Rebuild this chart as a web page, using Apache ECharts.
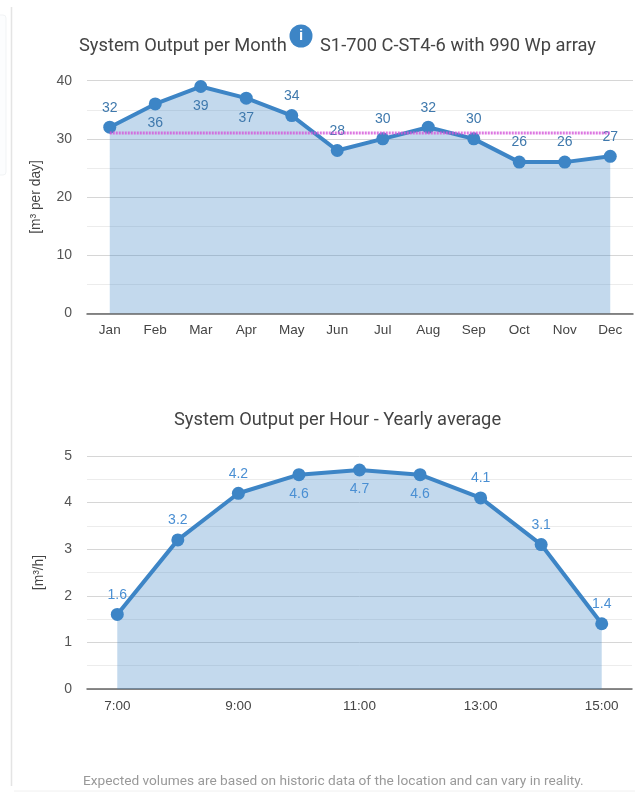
<!DOCTYPE html>
<html><head><meta charset="utf-8">
<style>html,body{margin:0;padding:0;background:#fff}#c{width:635px;height:792px}</style>
<script src="https://cdn.jsdelivr.net/npm/echarts@6/dist/echarts.min.js"></script>
</head><body><div id="c"></div>
<script>
const months = ['Jan','Feb','Mar','Apr','May','Jun','Jul','Aug','Sep','Oct','Nov','Dec'];
const monthValues = [32,36,39,37,34,28,30,32,30,26,26,27];
const monthThreshold = [31,31,31,31,31,31,31,31,31,31,31,31];
const monthLabelBelow = [0,1,1,1,0,0,0,0,0,0,0,0];
const hours = ['7:00','8:00','9:00','10:00','11:00','12:00','13:00','14:00','15:00'];
const hourValues = [1.6,3.2,4.2,4.6,4.7,4.6,4.1,3.1,1.4];
const hourLabelBelow = [0,0,0,1,1,1,0,0,0];
const title1 = 'System Output per Month';
const title1b = 'S1-700 C-ST4-6 with 990 Wp array';
const title2 = 'System Output per Hour - Yearly average';
const footer = 'Expected volumes are based on historic data of the location and can vary in reality.';

const blue = '#3d85c6';
const sans = '"Liberation Sans", Arial, sans-serif';
function withSides(vals, sides, color){
  return vals.map((v,i)=>({value:v,label:{position:sides[i]?'bottom':'top',color:color}}));
}
function yAxis(idx,max,interval,name,gap){
  return {type:'value',gridIndex:idx,min:0,max:max,interval:interval,name:name,nameLocation:'middle',nameGap:gap,
    nameTextStyle:{color:'#444',fontSize:13.8,fontFamily:sans},
    axisLine:{show:false},axisTick:{show:false},
    axisLabel:{color:'#555',fontSize:14,fontFamily:sans,margin:15},
    splitLine:{show:true,lineStyle:{color:'#d6d6d6',width:1}},
    minorTick:{show:false,splitNumber:2},
    minorSplitLine:{show:true,lineStyle:{color:'#ececec',width:1}}};
}
function xAxis(idx,data,interval){
  return {type:'category',gridIndex:idx,data:data,boundaryGap:true,
    axisLine:{show:true,lineStyle:{color:'#666',width:1.5}},axisTick:{show:false},
    axisLabel:{color:'#444',fontSize:13.5,fontFamily:sans,margin:10,interval:interval},
    splitLine:{show:false}};
}
function areaSeries(idx,data){
  return {type:'line',xAxisIndex:idx,yAxisIndex:idx,data:data,symbol:'circle',symbolSize:13,showSymbol:true,
    lineStyle:{color:blue,width:4},itemStyle:{color:blue},areaStyle:{color:blue,opacity:0.31},
    label:{show:true,fontSize:14,fontFamily:sans,distance:6},z:3};
}
const titleFont = {color:'#444',fontSize:18.3,fontWeight:'normal',fontFamily:'Roboto'};
const chart = echarts.init(document.getElementById('c'),null,{renderer:'canvas'});
chart.setOption({
  animation:false,
  backgroundColor:'#fff',
  title:[
    {text:title1,left:79,top:37,padding:0,textStyle:titleFont},
    {text:title1b,left:320,top:37,padding:0,textStyle:titleFont},
    {text:title2,left:174,top:411,padding:0,textStyle:titleFont},
    {text:footer,left:83,top:775,padding:0,textStyle:{color:'#999',fontSize:13.7,fontWeight:'normal',fontFamily:'Roboto'}}
  ],
  grid:[
    {left:87,right:2,top:80.7,height:232.6},
    {left:87,right:3,top:456,height:233}
  ],
  xAxis:[xAxis(0,months,0),xAxis(1,hours,1)],
  yAxis:[yAxis(0,40,10,'[m³ per day]',44),yAxis(1,5,1,'[m³/h]',41)],
  series:[
    areaSeries(0,withSides(monthValues,monthLabelBelow,'#3f79ad')),
    {type:'line',xAxisIndex:0,yAxisIndex:0,data:monthThreshold,symbol:'none',z:4,
      lineStyle:{color:'#d455da',width:3,type:[2,1],opacity:0.8}},
    areaSeries(1,withSides(hourValues,hourLabelBelow,'#4a8fd3'))
  ],
  graphic:[
    {type:'line',shape:{x1:11.5,y1:7,x2:11.5,y2:786},style:{stroke:'#e4e4e4',lineWidth:1.5},silent:true},
    {type:'line',shape:{x1:14,y1:791,x2:635,y2:791},style:{stroke:'#f0f0f0',lineWidth:1},silent:true},
    {type:'rect',shape:{x:-6,y:15,width:12,height:160,r:3},style:{fill:'#fcfdfe',stroke:'#f1f3f5',lineWidth:1},silent:true},
    {type:'circle',shape:{cx:301,cy:36,r:11.5},style:{fill:blue},silent:true},
    {type:'text',x:301,y:36,style:{text:'i',fill:'#fff',font:'bold 15px "Liberation Sans"',align:'center',verticalAlign:'middle'},silent:true}
  ]
});
</script></body></html>
